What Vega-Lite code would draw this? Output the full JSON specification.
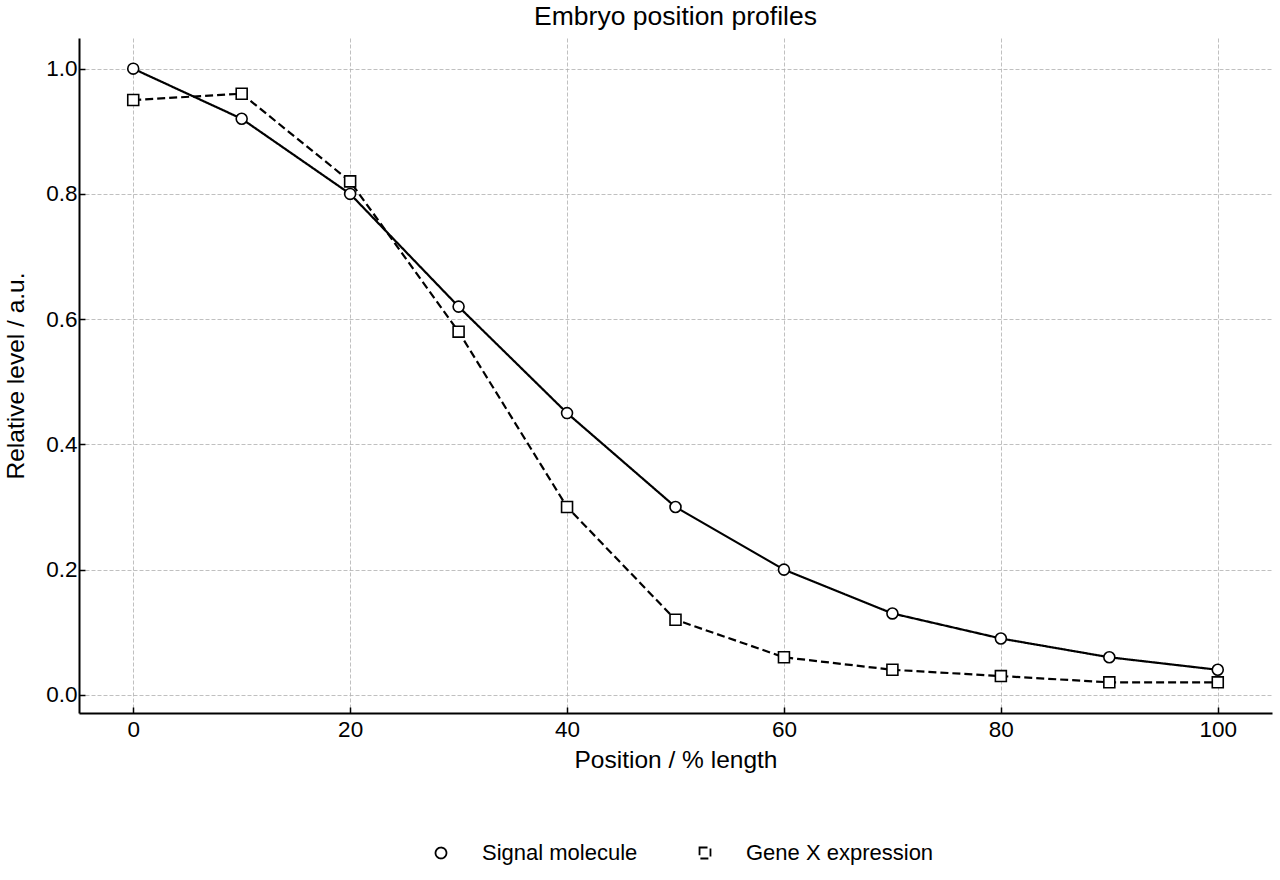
{
  "$schema": "https://vega.github.io/schema/vega-lite/v6.json",
  "width": 1193,
  "height": 675,
  "autosize": {"type": "none"},
  "padding": {"left": 79, "top": 38, "right": 8, "bottom": 167},
  "background": "white",
  "title": {
    "text": "Embryo position profiles",
    "fontSize": 26.5,
    "fontWeight": "normal",
    "font": "Liberation Sans",
    "color": "black",
    "anchor": "middle",
    "offset": 8
  },
  "config": {
    "font": "Liberation Sans",
    "view": {"stroke": null},
    "axis": {
      "domainColor": "black",
      "domainWidth": 2,
      "tickColor": "black",
      "tickWidth": 1.5,
      "tickSize": -6,
      "labelColor": "black",
      "labelFontSize": 22.5,
      "titleColor": "black",
      "titleFontSize": 24.5,
      "titleFontWeight": "normal",
      "grid": true,
      "gridColor": "#b0b0b0",
      "gridDash": [4, 2],
      "gridWidth": 0.8
    },
    "legend": {
      "orient": "none",
      "direction": "horizontal",
      "legendX": 351,
      "legendY": 804,
      "padding": 0,
      "labelFontSize": 22,
      "labelColor": "black",
      "labelLimit": 0,
      "labelOffset": 30,
      "columnPadding": 56,
      "symbolSize": 120,
      "symbolStrokeWidth": 1.8,
      "symbolStrokeColor": "black",
      "symbolFillColor": "white"
    }
  },
  "data": {
    "values": [
      {"pos": 0, "level": 1.0, "series": "Signal molecule"},
      {"pos": 10, "level": 0.92, "series": "Signal molecule"},
      {"pos": 20, "level": 0.8, "series": "Signal molecule"},
      {"pos": 30, "level": 0.62, "series": "Signal molecule"},
      {"pos": 40, "level": 0.45, "series": "Signal molecule"},
      {"pos": 50, "level": 0.3, "series": "Signal molecule"},
      {"pos": 60, "level": 0.2, "series": "Signal molecule"},
      {"pos": 70, "level": 0.13, "series": "Signal molecule"},
      {"pos": 80, "level": 0.09, "series": "Signal molecule"},
      {"pos": 90, "level": 0.06, "series": "Signal molecule"},
      {"pos": 100, "level": 0.04, "series": "Signal molecule"},
      {"pos": 0, "level": 0.95, "series": "Gene X expression"},
      {"pos": 10, "level": 0.96, "series": "Gene X expression"},
      {"pos": 20, "level": 0.82, "series": "Gene X expression"},
      {"pos": 30, "level": 0.58, "series": "Gene X expression"},
      {"pos": 40, "level": 0.3, "series": "Gene X expression"},
      {"pos": 50, "level": 0.12, "series": "Gene X expression"},
      {"pos": 60, "level": 0.06, "series": "Gene X expression"},
      {"pos": 70, "level": 0.04, "series": "Gene X expression"},
      {"pos": 80, "level": 0.03, "series": "Gene X expression"},
      {"pos": 90, "level": 0.02, "series": "Gene X expression"},
      {"pos": 100, "level": 0.02, "series": "Gene X expression"}
    ]
  },
  "encoding": {
    "x": {
      "field": "pos",
      "type": "quantitative",
      "title": "Position / % length",
      "scale": {"domain": [-5, 105], "nice": false, "zero": false},
      "axis": {"values": [0, 20, 40, 60, 80, 100], "labelPadding": 11, "titlePadding": 8}
    },
    "y": {
      "field": "level",
      "type": "quantitative",
      "title": "Relative level / a.u.",
      "scale": {"domain": [-0.029, 1.049], "nice": false, "zero": false},
      "axis": {"values": [0, 0.2, 0.4, 0.6, 0.8, 1.0], "format": ".1f", "labelPadding": 8, "titlePadding": 17}
    }
  },
  "layer": [
    {
      "mark": {"type": "line", "color": "black", "strokeWidth": 2.2},
      "encoding": {
        "strokeDash": {
          "field": "series",
          "type": "nominal",
          "scale": {"domain": ["Signal molecule", "Gene X expression"], "range": [[1, 0], [8, 4]]},
          "legend": {
            "title": null,
            "encode": {
              "symbols": {
                "update": {
                  "size": {"value": 120},
                  "stroke": {"value": "black"},
                  "strokeWidth": {"value": 1.8},
                  "fill": {"value": "white"},
                  "opacity": {"value": 1}
                }
              }
            }
          }
        }
      }
    },
    {
      "mark": {"type": "point", "filled": true, "fill": "white", "stroke": "black", "strokeWidth": 1.6, "opacity": 1, "size": 120},
      "encoding": {
        "shape": {
          "field": "series",
          "type": "nominal",
          "scale": {"domain": ["Signal molecule", "Gene X expression"], "range": ["circle", "square"]},
          "legend": {
            "title": null,
            "encode": {
              "symbols": {
                "update": {
                  "size": {"value": 120},
                  "stroke": {"value": "black"},
                  "strokeWidth": {"value": 1.8},
                  "fill": {"value": "white"},
                  "opacity": {"value": 1}
                }
              }
            }
          }
        }
      }
    }
  ]
}
